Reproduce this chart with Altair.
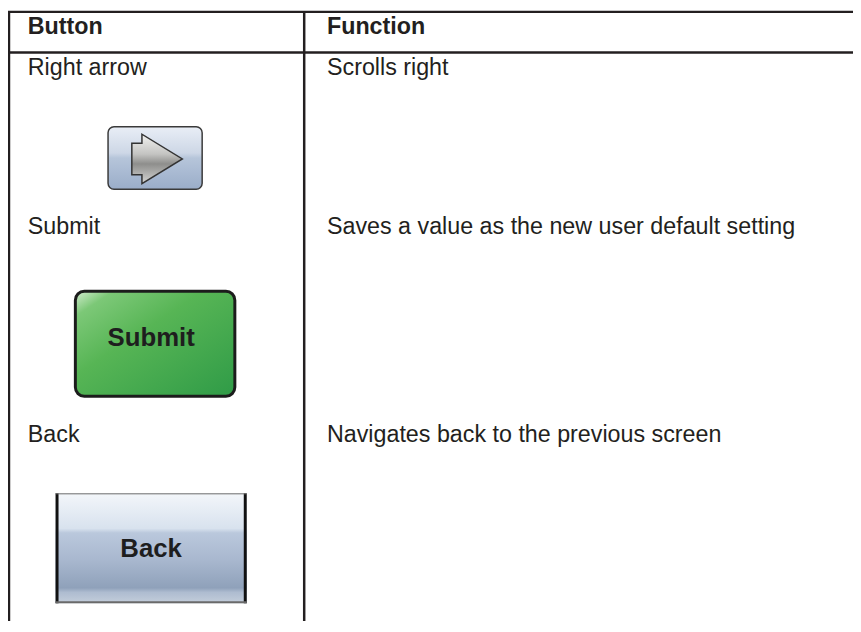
import altair as alt
import pandas as pd

# ---- content ----
headers = ["Button", "Function"]
buttons = ["Right arrow", "Submit", "Back"]
functions = [
    "Scrolls right",
    "Saves a value as the new user default setting",
    "Navigates back to the previous screen",
]
captions = ["", "Submit", "Back"]  # text printed on the button pictures

# ---- layout (chart pixel space; page origin is offset by the 8px margin) ----
W, H = 853, 616
col_left = [1, 299]          # table column rules
header_rule = 42
header_base = 23.5
row_base = [64.5, 225, 435]
FONT = "Liberation Sans"
INK = "#231f20"
FS = 23.5

X = alt.Scale(domain=[0, W], nice=False, zero=False)
Y = alt.Scale(domain=[0, H], nice=False, zero=False, reverse=True)


def xq(f="x"):
    return alt.X(f"{f}:Q", scale=X, axis=None)


def yq(f="y"):
    return alt.Y(f"{f}:Q", scale=Y, axis=None)


# table rules
rules = pd.DataFrame([
    dict(x=0, x2=W, y=1, y2=1),
    dict(x=0, x2=W, y=header_rule, y2=header_rule),
    dict(x=col_left[0], x2=col_left[0], y=0, y2=H),
    dict(x=col_left[1], x2=col_left[1], y=0, y2=H),
])
rule_layer = alt.Chart(rules).mark_rule(color=INK, strokeWidth=2.5).encode(
    x=xq(), x2="x2:Q", y=yq(), y2="y2:Q"
)

# header text
hdr = pd.DataFrame({"t": headers, "x": [col_left[0] + 19, col_left[1] + 23],
                    "y": [header_base] * 2})
hdr_layer = alt.Chart(hdr).mark_text(
    font=FONT, fontSize=FS, fontWeight="bold", align="left", baseline="alphabetic", color=INK
).encode(x=xq(), y=yq(), text="t:N")

# body text
rows = []
for i, (b, f) in enumerate(zip(buttons, functions)):
    rows.append(dict(t=b, x=col_left[0] + 19, y=row_base[i]))
    rows.append(dict(t=f, x=col_left[1] + 23, y=row_base[i]))
body = pd.DataFrame(rows)
body_layer = alt.Chart(body).mark_text(
    font=FONT, fontSize=FS, align="left", baseline="alphabetic", color=INK
).encode(x=xq(), y=yq(), text="t:N")

# ---- button pictures ----
arrow_btn = pd.DataFrame([dict(x=101, x2=196, y=117, y2=180)])
arrow_btn_layer = alt.Chart(arrow_btn).mark_rect(
    cornerRadius=6, stroke="#3a3a3a", strokeWidth=1.5,
    fill=alt.Gradient(gradient="linear", x1=0, y1=0, x2=0, y2=1, stops=[
        alt.GradientStop(color="#e9eef6", offset=0),
        alt.GradientStop(color="#cdd7e6", offset=0.42),
        alt.GradientStop(color="#b6c5da", offset=0.5),
        alt.GradientStop(color="#9aadc9", offset=1),
    ]),
).encode(x=xq(), x2="x2:Q", y=yq(), y2="y2:Q")

arrow_path = "M-1,-0.62 L-0.6,-0.62 L-0.6,-0.98 L1,0 L-0.6,0.98 L-0.6,0.62 L-1,0.62 Z"
arrow = pd.DataFrame([dict(x=150.5, y=149.5)])
arrow_layer = alt.Chart(arrow).mark_point(
    shape=arrow_path, size=2600, filled=True, opacity=1, stroke="#333333", strokeWidth=1.5,
    fill=alt.Gradient(gradient="linear", x1=0, y1=0, x2=0, y2=1, stops=[
        alt.GradientStop(color="#f2f2f0", offset=0),
        alt.GradientStop(color="#c4c4c2", offset=0.4),
        alt.GradientStop(color="#8e8e8c", offset=0.6),
        alt.GradientStop(color="#d6d6d4", offset=1),
    ]),
).encode(x=xq(), y=yq())

submit_btn = pd.DataFrame([dict(x=68, x2=229, y=283, y2=389)])
submit_layer = alt.Chart(submit_btn).mark_rect(
    cornerRadius=9, stroke="#1c1c1c", strokeWidth=3,
    fill=alt.Gradient(gradient="linear", x1=0, y1=0, x2=1, y2=1, stops=[
        alt.GradientStop(color="#d4ecd0", offset=0),
        alt.GradientStop(color="#7cc877", offset=0.12),
        alt.GradientStop(color="#57b555", offset=0.4),
        alt.GradientStop(color="#2f9b47", offset=1),
    ]),
).encode(x=xq(), x2="x2:Q", y=yq(), y2="y2:Q")

back_btn = pd.DataFrame([dict(x=48, x2=241, y=487, y2=598)])
back_layer = alt.Chart(back_btn).mark_rect(
    fill=alt.Gradient(gradient="linear", x1=0, y1=0, x2=0, y2=1, stops=[
        alt.GradientStop(color="#f3f6fa", offset=0),
        alt.GradientStop(color="#d8e2ee", offset=0.32),
        alt.GradientStop(color="#bac8dc", offset=0.36),
        alt.GradientStop(color="#a9b8cf", offset=0.6),
        alt.GradientStop(color="#8fa1ba", offset=0.86),
        alt.GradientStop(color="#aebcd0", offset=0.9),
        alt.GradientStop(color="#c4cedb", offset=1),
    ]),
).encode(x=xq(), x2="x2:Q", y=yq(), y2="y2:Q")

back_edges = pd.DataFrame([
    dict(x=49.5, x2=49.5, y=487, y2=598, c="#111111", w=3),
    dict(x=239.5, x2=239.5, y=487, y2=598, c="#111111", w=3),
    dict(x=48, x2=241, y=487.5, y2=487.5, c="#6a6a6a", w=1),
    dict(x=48, x2=241, y=597, y2=597, c="#6a6a6a", w=2),
])
back_edge_layer = alt.Chart(back_edges).mark_rule().encode(
    x=xq(), x2="x2:Q", y=yq(), y2="y2:Q",
    color=alt.Color("c:N", scale=None), strokeWidth=alt.StrokeWidth("w:Q", scale=None),
)

cap = pd.DataFrame([
    dict(t=captions[1], x=144.5, y=338),
    dict(t=captions[2], x=144.5, y=551),
])
cap_layer = alt.Chart(cap).mark_text(
    font=FONT, fontSize=26, fontWeight="bold", align="center", baseline="alphabetic", color="#1e1e1e"
).encode(x=xq(), y=yq(), text="t:N")

chart = alt.layer(
    arrow_btn_layer, arrow_layer, submit_layer, back_layer, back_edge_layer,
    rule_layer, hdr_layer, body_layer, cap_layer,
).properties(
    width=W, height=H, padding=0, autosize=alt.AutoSizeParams(type="none"),
    background="#ffffff",
).configure_view(stroke=None)

chart.save("out.html", embed_options={"renderer": "svg", "actions": False})
